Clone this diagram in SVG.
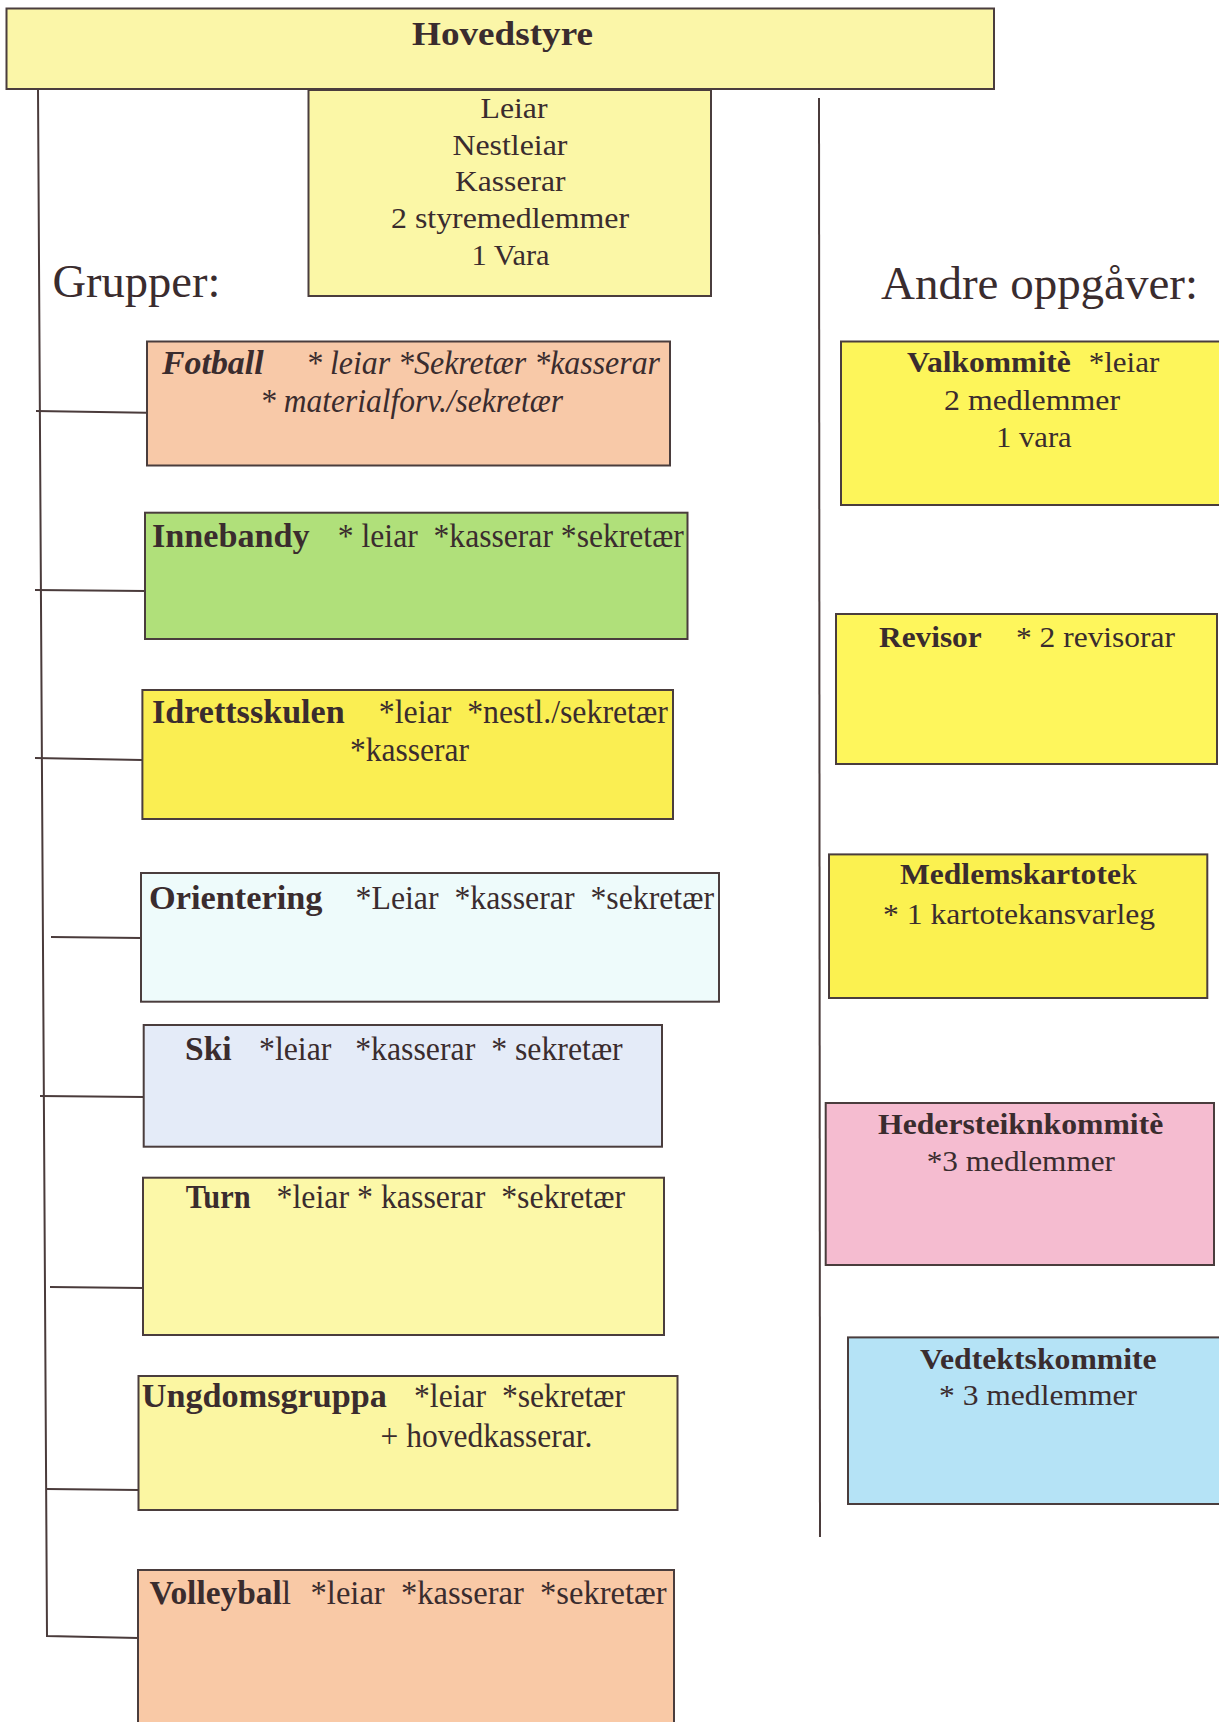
<svg xmlns="http://www.w3.org/2000/svg" width="1219" height="1722" viewBox="0 0 1219 1722">
<style>
  text { font-family: "Liberation Serif", "Times New Roman", serif; fill: #3a2c2e; }
  .box { stroke: #4a3d3d; stroke-width: 2; }
  .b { font-weight: bold; }
  .n { font-weight: normal; }
  .it { font-style: italic; }
  .t33 { font-size: 33px; }
  .t30 { font-size: 30px; }
  .t47 { font-size: 47px; }
  .conn { stroke: #4a3b3b; stroke-width: 2; fill: none; }
</style>
<rect x="0" y="0" width="1219" height="1722" fill="#ffffff"/>

<g id="connectors">
  <path class="conn" d="M38 89 L47 1636 L138 1638"/>
  <path class="conn" d="M36 411 L162 413"/>
  <path class="conn" d="M35 590 L145 591"/>
  <path class="conn" d="M35 758 L142 760"/>
  <path class="conn" d="M51 937 L141 938"/>
  <path class="conn" d="M40 1096 L144 1097"/>
  <path class="conn" d="M50 1287 L143 1288"/>
  <path class="conn" d="M47 1489 L138.5 1490"/>
  <path class="conn" d="M819 98 L820 1537"/>
</g>

<g id="hovedstyre">
  <rect class="box" x="6.5" y="8.5" width="987.5" height="80.5" fill="#fbf6a8"/>
  <text class="b" x="412" y="45" font-size="34" textLength="181" lengthAdjust="spacingAndGlyphs">Hovedstyre</text>
</g>

<g id="styre">
  <rect class="box" x="308.5" y="90" width="402.5" height="206" fill="#fbf7a6"/>
  <text class="t30" x="480.5" y="118" textLength="67" lengthAdjust="spacingAndGlyphs">Leiar</text>
  <text class="t30" x="452.4" y="154.7" textLength="115" lengthAdjust="spacingAndGlyphs">Nestleiar</text>
  <text class="t30" x="455" y="191" textLength="110.5" lengthAdjust="spacingAndGlyphs">Kasserar</text>
  <text class="t30" x="391" y="228" textLength="238" lengthAdjust="spacingAndGlyphs">2 styremedlemmer</text>
  <text class="t30" x="471.6" y="265" textLength="78" lengthAdjust="spacingAndGlyphs">1 Vara</text>
</g>

<g id="headings">
  <text class="t47" x="52.4" y="297" textLength="168" lengthAdjust="spacingAndGlyphs">Grupper:</text>
  <text class="t47" x="881" y="299" textLength="317" lengthAdjust="spacingAndGlyphs">Andre oppgåver:</text>
</g>

<g id="fotball">
  <rect class="box" x="147" y="341.5" width="523" height="124" fill="#f8c9a8"/>
  <text class="t33 b it" x="162" y="374" textLength="101.6" lengthAdjust="spacingAndGlyphs">Fotball</text>
  <text class="t33 it" x="306" y="374" textLength="354" lengthAdjust="spacingAndGlyphs">* leiar *Sekretær *kasserar</text>
  <text class="t33 it" x="260" y="411.7" textLength="303" lengthAdjust="spacingAndGlyphs">* materialforv./sekretær</text>
</g>

<g id="innebandy">
  <rect class="box" x="145" y="512.7" width="542.5" height="126.3" fill="#b0e07a"/>
  <text class="t33 b" x="152" y="546.7" textLength="157.7" lengthAdjust="spacingAndGlyphs">Innebandy</text>
  <text class="t33" x="337.8" y="546.7" textLength="346" lengthAdjust="spacingAndGlyphs" xml:space="preserve">* leiar  *kasserar *sekretær</text>
</g>

<g id="idrettsskulen">
  <rect class="box" x="142.4" y="690" width="530.6" height="129" fill="#faee52"/>
  <text class="t33 b" x="152" y="723.3" textLength="192.7" lengthAdjust="spacingAndGlyphs">Idrettsskulen</text>
  <text class="t33" x="378.8" y="723.3" textLength="289" lengthAdjust="spacingAndGlyphs" xml:space="preserve">*leiar  *nestl./sekretær</text>
  <text class="t33" x="350" y="760.7" textLength="119" lengthAdjust="spacingAndGlyphs">*kasserar</text>
</g>

<g id="orientering">
  <rect class="box" x="141" y="873" width="578" height="128.7" fill="#eefbfb"/>
  <text class="t33 b" x="149" y="909" textLength="173.5" lengthAdjust="spacingAndGlyphs">Orientering</text>
  <text class="t33" x="355.6" y="909" textLength="358.4" lengthAdjust="spacingAndGlyphs" xml:space="preserve">*Leiar  *kasserar  *sekretær</text>
</g>

<g id="ski">
  <rect class="box" x="143.7" y="1025" width="518.3" height="121.7" fill="#e4ebf8"/>
  <text class="t33 b" x="185" y="1060" textLength="46.7" lengthAdjust="spacingAndGlyphs">Ski</text>
  <text class="t33" x="259" y="1060" textLength="363.7" lengthAdjust="spacingAndGlyphs" xml:space="preserve">*leiar   *kasserar  * sekretær</text>
</g>

<g id="turn">
  <rect class="box" x="143" y="1177.7" width="521" height="157.3" fill="#fcf8a8"/>
  <text class="t33 b" x="185.8" y="1207.7" textLength="64.8" lengthAdjust="spacingAndGlyphs">Turn</text>
  <text class="t33" x="276.6" y="1207.7" textLength="348.4" lengthAdjust="spacingAndGlyphs" xml:space="preserve">*leiar * kasserar  *sekretær</text>
</g>

<g id="ungdomsgruppa">
  <rect class="box" x="138.5" y="1376" width="539" height="134" fill="#fbf6a2"/>
  <text class="t33 b" x="141.8" y="1407.3" textLength="245" lengthAdjust="spacingAndGlyphs">Ungdomsgruppa</text>
  <text class="t33" x="414" y="1407.3" textLength="211" lengthAdjust="spacingAndGlyphs" xml:space="preserve">*leiar  *sekretær</text>
  <text class="t33" x="380.6" y="1446.7" textLength="211.8" lengthAdjust="spacingAndGlyphs">+ hovedkasserar.</text>
</g>

<g id="volleyball">
  <rect class="box" x="138" y="1570" width="536" height="170" fill="#f9c9a6"/>
  <text class="t33 b" x="149.4" y="1604" textLength="141.6" lengthAdjust="spacingAndGlyphs">Volleybal<tspan class="n">l</tspan></text>
  <text class="t33" x="310.6" y="1604" textLength="356" lengthAdjust="spacingAndGlyphs" xml:space="preserve">*leiar  *kasserar  *sekretær</text>
</g>

<g id="valkommite">
  <rect class="box" x="841" y="341.5" width="390" height="163.5" fill="#fdf55a"/>
  <text class="t30 b" x="907" y="372" textLength="163.7" lengthAdjust="spacingAndGlyphs">Valkommitè</text>
  <text class="t30" x="1088.7" y="372" textLength="70.6" lengthAdjust="spacingAndGlyphs">*leiar</text>
  <text class="t30" x="944" y="409.6" textLength="176" lengthAdjust="spacingAndGlyphs">2 medlemmer</text>
  <text class="t30" x="996" y="446.5" textLength="75.7" lengthAdjust="spacingAndGlyphs">1 vara</text>
</g>

<g id="revisor">
  <rect class="box" x="836" y="614" width="381" height="150" fill="#fef65c"/>
  <text class="t30 b" x="879" y="646.5" textLength="102.7" lengthAdjust="spacingAndGlyphs">Revisor</text>
  <text class="t30" x="1016" y="646.5" textLength="159" lengthAdjust="spacingAndGlyphs">* 2 revisorar</text>
</g>

<g id="medlemskartotek">
  <rect class="box" x="829" y="854.4" width="378.3" height="143.6" fill="#fbf150"/>
  <text class="t30 b" x="900" y="884" textLength="236.7" lengthAdjust="spacingAndGlyphs">Medlemskartote<tspan class="n">k</tspan></text>
  <text class="t30" x="883" y="923.5" textLength="272" lengthAdjust="spacingAndGlyphs">* 1 kartotekansvarleg</text>
</g>

<g id="hedersteiknkommite">
  <rect class="box" x="825.7" y="1103" width="388.3" height="162" fill="#f5bcd0"/>
  <text class="t30 b" x="878" y="1133.6" textLength="285.3" lengthAdjust="spacingAndGlyphs">Hedersteiknkommitè</text>
  <text class="t30" x="926.7" y="1171" textLength="188.3" lengthAdjust="spacingAndGlyphs">*3 medlemmer</text>
</g>

<g id="vedtektskommite">
  <rect class="box" x="848" y="1337.4" width="380" height="166.6" fill="#b5e3f6"/>
  <text class="t30 b" x="920" y="1368.7" textLength="236.7" lengthAdjust="spacingAndGlyphs">Vedtektskommite</text>
  <text class="t30" x="939" y="1405" textLength="198" lengthAdjust="spacingAndGlyphs">* 3 medlemmer</text>
</g>
</svg>
